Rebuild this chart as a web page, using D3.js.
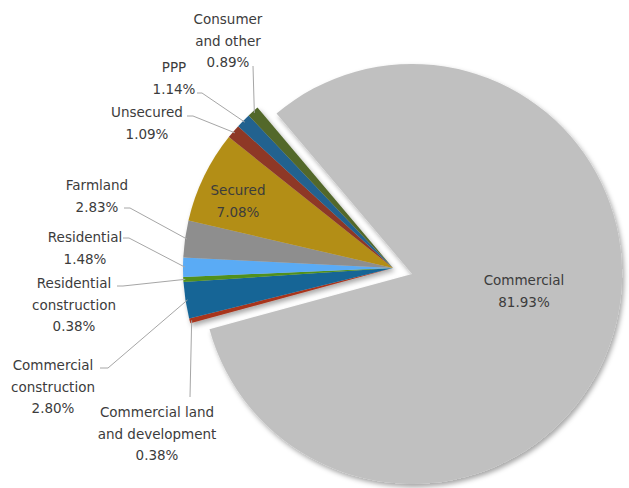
<!DOCTYPE html>
<html>
<head>
<meta charset="utf-8">
<script src="https://cdn.jsdelivr.net/npm/d3@7/dist/d3.min.js"></script>
<style>
  html, body { margin: 0; padding: 0; background: #fff; }
  svg { display: block; }
  text { font-family: "DejaVu Sans", Verdana, sans-serif; font-size: 13.5px; fill: #3c3c3c; }
</style>
</head>
<body>
<svg id="chart" width="629" height="488"></svg>
<script>
// Loan portfolio composition (share of total, %)
const categories = [
  "Commercial",
  "Commercial land and development",
  "Commercial construction",
  "Residential construction",
  "Residential",
  "Farmland",
  "Secured",
  "Unsecured",
  "PPP",
  "Consumer and other"
];
const shares = [81.93, 0.38, 2.80, 0.38, 1.48, 2.83, 7.08, 1.09, 1.14, 0.89];

// Label text split into lines (last line is the percentage)
const labelLines = [
  ["Commercial"],
  ["Commercial land", "and development"],
  ["Commercial", "construction"],
  ["Residential", "construction"],
  ["Residential"],
  ["Farmland"],
  ["Secured"],
  ["Unsecured"],
  ["PPP"],
  ["Consumer", "and other"]
];

// Slice colours: [outer, inner] for a soft radial shading
const sliceColors = [
  ["#c0c0c0", "#c0c0c0"],
  ["#a8361f", "#7e2616"],
  ["#166596", "#0a4568"],
  ["#51901c", "#386a10"],
  ["#5aabf5", "#3c8adb"],
  ["#8e8e8e", "#606060"],
  ["#b38e17", "#7c5e03"],
  ["#8e3828", "#66261a"],
  ["#22628f", "#12476d"],
  ["#52672b", "#38481c"]
];

// Label placement: text centre x, first baseline y, and leader path bends
const labelLayout = [
  { x: 524, y: 285, inside: true },
  { x: 157, y: 417, bends: [[190, 397]] },
  { x: 53,  y: 370, bends: [[100, 368], [108, 368]] },
  { x: 74,  y: 288, bends: [[117, 286], [123, 286]] },
  { x: 85,  y: 242, bends: [[123, 238], [129, 238]] },
  { x: 97,  y: 190, bends: [[124, 208], [130, 208]] },
  { x: 238, y: 195, inside: true },
  { x: 147, y: 117, bends: [[187, 116], [193, 116]] },
  { x: 174, y: 72,  bends: [[197, 93], [202, 93]] },
  { x: 228, y: 24,  bends: [[253, 66]] }
];

const cx = 393, cy = 268, radius = 210, explode = 20, lineH = 21.5;
const startOffset = -40.2 * Math.PI / 180;

const svg = d3.select("#chart");
const defs = svg.append("defs");

const shadow = defs.append("filter").attr("id", "shadow")
  .attr("x", "-10%").attr("y", "-10%").attr("width", "125%").attr("height", "125%");
shadow.append("feDropShadow")
  .attr("dx", 2).attr("dy", 3).attr("stdDeviation", 2.5)
  .attr("flood-color", "#000").attr("flood-opacity", 0.35);

const pie = d3.pie().sort(null).value(d => d)
  .startAngle(startOffset).endAngle(startOffset + 2 * Math.PI);
const arcs = pie(shares);

const arc = d3.arc().innerRadius(0).outerRadius(radius);

const offsetOf = (d, i) => {
  if (i !== 0) return [0, 0];
  const mid = (d.startAngle + d.endAngle) / 2;
  return [Math.sin(mid) * explode, -Math.cos(mid) * explode];
};

arcs.forEach((d, i) => {
  const [ox, oy] = offsetOf(d, i);
  const g = defs.append("radialGradient")
    .attr("id", "grad" + i)
    .attr("gradientUnits", "userSpaceOnUse")
    .attr("cx", cx + ox).attr("cy", cy + oy).attr("r", radius);
  g.append("stop").attr("offset", "0%").attr("stop-color", sliceColors[i][1]);
  g.append("stop").attr("offset", "55%").attr("stop-color", sliceColors[i][1]);
  g.append("stop").attr("offset", "100%").attr("stop-color", sliceColors[i][0]);
});

const pieG = svg.append("g").attr("filter", "url(#shadow)");
pieG.selectAll("path.slice")
  .data(arcs)
  .join("path")
  .attr("class", "slice")
  .attr("transform", (d, i) => {
    const [ox, oy] = offsetOf(d, i);
    return `translate(${cx + ox},${cy + oy})`;
  })
  .attr("d", arc)
  .attr("fill", (d, i) => `url(#grad${i})`);

// Leader lines from each outside label to the outer edge of its slice
const line = d3.line();
const leaders = svg.append("g");
arcs.forEach((d, i) => {
  const L = labelLayout[i];
  if (L.inside) return;
  const mid = (d.startAngle + d.endAngle) / 2;
  const edge = [cx + Math.sin(mid) * (radius - 2), cy - Math.cos(mid) * (radius - 2)];
  leaders.append("path")
    .attr("d", line([...L.bends, edge]))
    .attr("fill", "none")
    .attr("stroke", "#a6a6a6")
    .attr("stroke-width", 1);
});

// Labels: category name lines followed by the percentage
const labels = svg.append("g");
arcs.forEach((d, i) => {
  const L = labelLayout[i];
  const lines = [...labelLines[i], shares[i].toFixed(2) + "%"];
  const t = labels.append("text")
    .attr("text-anchor", "middle")
    .attr("x", L.x).attr("y", L.y);
  lines.forEach((s, k) => {
    t.append("tspan").attr("x", L.x).attr("y", L.y + k * lineH).text(s);
  });
});
</script>
</body>
</html>
